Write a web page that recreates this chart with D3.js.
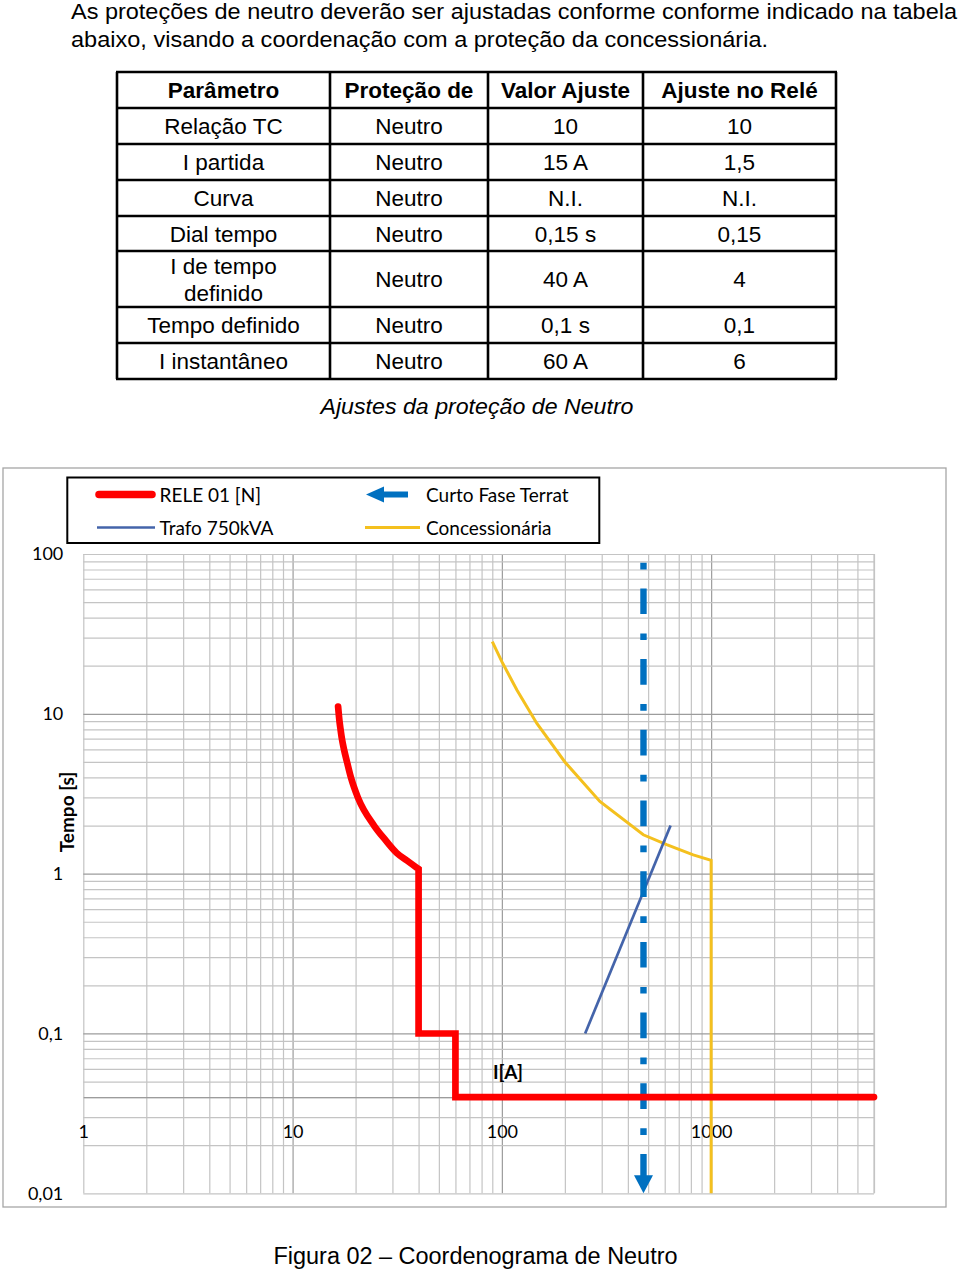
<!DOCTYPE html>
<html><head><meta charset="utf-8">
<script src="https://cdn.jsdelivr.net/npm/d3@7"></script>
<style>body{margin:0;background:#fff}svg{display:block}</style>
</head><body><svg id="c" width="960" height="1272"></svg>
<script>
// ---------- data ----------
const introLines = ["As proteções de neutro deverão ser ajustadas conforme conforme indicado na tabela",
                    "abaixo, visando a coordenação com a proteção da concessionária."];
const tableHeader = ["Parâmetro", "Proteção de", "Valor Ajuste", "Ajuste no Relé"];
const paramNames = ["Relação TC", "I partida", "Curva", "Dial tempo", "I de tempo\ndefinido", "Tempo definido", "I instantâneo"];
const protecaoDe = ["Neutro", "Neutro", "Neutro", "Neutro", "Neutro", "Neutro", "Neutro"];
const valorAjuste = ["10", "15 A", "N.I.", "0,15 s", "40 A", "0,1 s", "60 A"];
const ajusteRele = ["10", "1,5", "N.I.", "0,15", "4", "0,1", "6"];
const tableCaption = "Ajustes da proteção de Neutro";
const figureCaption = "Figura 02 – Coordenograma de Neutro";

const releCurrent = [16.5, 16.75, 16.95, 17.2, 17.6, 18.2, 19.0, 20.5, 24.5, 27.8, 31.4, 35.1, 39.2, 40, 40, 60, 60, 6000];
const releTime    = [11.1, 9.0, 8.0, 7.0, 6.0, 5.0, 4.0, 3.0, 2.0, 1.62, 1.35, 1.21, 1.09, 1.07, 0.1, 0.1, 0.04, 0.04];
const releCurveEnd = 13; // index where the inverse-time curve ends and the steps begin
const concCurrent = [90, 100, 118, 147, 200, 294, 474, 613, 821, 1000, 1000];
const concTime    = [28.3, 21.2, 14.1, 8.7, 5.0, 2.83, 1.75, 1.52, 1.31, 1.21, 0.01];
const trafoCurrent = [250, 640];
const trafoTime    = [0.1, 2.0];
const curtoCurrent = [475, 475];
const curtoTime    = [100, 0.01];

const seriesNames = ["RELE 01 [N]", "Trafo 750kVA", "Curto Fase Terrat", "Concessionária"];
const xTicks = [1, 10, 100, 1000];
const xTickLabels = ["1", "10", "100", "1000"];
const yTicks = [0.01, 0.1, 1, 10, 100];
const yTickLabels = ["0,01", "0,1", "1", "10", "100"];
const xDomain = [1, 6000];
const yDomain = [0.01, 100];
const axisCross = 0.04;
const xTitle = "I[A]";
const yTitle = "Tempo [s]";

// ---------- drawing ----------
const svg = d3.select("#c");
svg.append("rect").attr("width", 960).attr("height", 1272).attr("fill", "#fff");

const ARIAL = "'Liberation Sans', Arial, sans-serif";
const CAL = "Lato, 'Open Sans', sans-serif";

// intro paragraph
const introW = [886, 697];
introLines.forEach((t, i) => {
  svg.append("text").attr("x", 71).attr("y", 18.5 + i * 28.3)
    .attr("font-family", ARIAL).attr("font-size", 21.5).attr("fill", "#000")
    .attr("textLength", introW[i]).attr("lengthAdjust", "spacingAndGlyphs")
    .text(t);
});

// table
const colEdges = [117, 330, 488, 643, 836];
const rowEdges = [72, 108, 144, 180, 216, 251, 307, 343, 379];
const tbl = svg.append("g");
const rows = [tableHeader].concat(paramNames.map((p, i) => [p, protecaoDe[i], valorAjuste[i], ajusteRele[i]]));
rows.forEach((r, ri) => {
  const yc = (rowEdges[ri] + rowEdges[ri + 1]) / 2;
  r.forEach((cell, ci) => {
    const xc = (colEdges[ci] + colEdges[ci + 1]) / 2;
    const lines = cell.split("\n");
    lines.forEach((ln, li) => {
      tbl.append("text")
        .attr("x", xc)
        .attr("y", yc + 8 + (li - (lines.length - 1) / 2) * 27)
        .attr("text-anchor", "middle")
        .attr("font-family", ARIAL).attr("font-size", 22.5)
        .attr("font-weight", ri === 0 ? "bold" : "normal")
        .attr("fill", "#000").text(ln);
    });
  });
});
rowEdges.forEach(yv => tbl.append("line").attr("x1", colEdges[0] - 1).attr("x2", colEdges[4] + 1)
  .attr("y1", yv).attr("y2", yv).attr("stroke", "#000").attr("stroke-width", 2.6));
colEdges.forEach(xv => tbl.append("line").attr("x1", xv).attr("x2", xv)
  .attr("y1", rowEdges[0]).attr("y2", rowEdges[rowEdges.length - 1]).attr("stroke", "#000").attr("stroke-width", 2.6));

svg.append("text").attr("x", 477).attr("y", 414).attr("text-anchor", "middle")
  .attr("font-family", ARIAL).attr("font-size", 22).attr("font-style", "italic")
  .attr("textLength", 313).attr("lengthAdjust", "spacingAndGlyphs").text(tableCaption);

svg.append("text").attr("x", 475.5).attr("y", 1264).attr("text-anchor", "middle")
  .attr("font-family", ARIAL).attr("font-size", 23.5)
  .attr("textLength", 404).attr("lengthAdjust", "spacingAndGlyphs").text(figureCaption);

// chart frame
svg.append("rect").attr("x", 3).attr("y", 468).attr("width", 943).attr("height", 739)
  .attr("fill", "#fff").attr("stroke", "#A6A6A6").attr("stroke-width", 1.3);

const x = d3.scaleLog().domain(xDomain).range([83.3, 874]);
const y = d3.scaleLog().domain(yDomain).range([1193.3, 554]);
const [px0, px1] = x.range();
const [py0, py1] = y.range();

// grid values (decade subdivisions)
function logGrid(lo, hi) {
  const out = [];
  for (let e = Math.floor(Math.log10(lo)); e <= Math.ceil(Math.log10(hi)); e++)
    for (let k = 1; k <= 9; k++) {
      const v = +(k * Math.pow(10, e)).toPrecision(6);
      if (v >= lo - 1e-12 && v <= hi + 1e-9) out.push(v);
    }
  return out;
}
const isMajor = v => Math.abs(Math.log10(v) - Math.round(Math.log10(v))) < 1e-9;
const gx = logGrid(xDomain[0], xDomain[1]);
const gy = logGrid(yDomain[0], yDomain[1]);

const grid = svg.append("g");
grid.append("g").attr("transform", `translate(0,${py0})`)
  .call(d3.axisBottom(x).tickValues(gx).tickSize(py1 - py0).tickFormat(""))
  .call(g => g.select(".domain").remove())
  .call(g => g.selectAll(".tick line")
    .attr("stroke", d => (isMajor(d) && d !== xDomain[0]) ? "#9C9C9C" : "#C4C4C4").attr("stroke-width", 1.2));
grid.append("g").attr("transform", `translate(${px0},0)`)
  .call(d3.axisLeft(y).tickValues(gy).tickSize(px0 - px1).tickFormat(""))
  .call(g => g.select(".domain").remove())
  .call(g => g.selectAll(".tick line")
    .attr("stroke", d => (isMajor(d) && d !== yDomain[0] && d !== yDomain[1]) ? "#9C9C9C" : "#C4C4C4").attr("stroke-width", 1.2));
grid.append("line").attr("x1", px1).attr("x2", px1).attr("y1", py1).attr("y2", py0)
  .attr("stroke", "#C4C4C4").attr("stroke-width", 1.2);

// y axis labels
svg.append("g").attr("transform", `translate(${px0},0)`)
  .call(d3.axisLeft(y).tickValues(yTicks).tickSize(0).tickPadding(20)
    .tickFormat((d, i) => yTickLabels[i]))
  .call(g => g.select(".domain").remove())
  .call(g => g.selectAll("text").attr("font-family", CAL).attr("font-size", 18).attr("fill", "#000"));

// x axis (crossing at axisCross)
svg.append("g").attr("transform", `translate(0,${y(axisCross)})`)
  .call(d3.axisBottom(x).tickValues(xTicks).tickSize(0).tickPadding(28)
    .tickFormat((d, i) => xTickLabels[i]))
  .call(g => g.select(".domain").attr("stroke", "#9C9C9C").attr("stroke-width", 1.2))
  .call(g => g.selectAll("text").attr("font-family", CAL).attr("font-size", 18).attr("fill", "#000"));

// axis titles
svg.append("text").attr("transform", "translate(74,812) rotate(-90)").attr("text-anchor", "middle")
  .attr("font-family", CAL).attr("font-size", 19).attr("font-weight", "bold").text(yTitle);
svg.append("text").attr("x", 508).attr("y", 1079).attr("text-anchor", "middle")
  .attr("font-family", CAL).attr("font-size", 19).attr("font-weight", "bold").text(xTitle);

// series
const line = d3.line().x(d => x(d[0])).y(d => y(d[1]));
const smooth = d3.line().x(d => x(d[0])).y(d => y(d[1])).curve(d3.curveMonotoneX);
const zip = (a, b) => a.map((v, i) => [v, b[i]]);

svg.append("path").datum(zip(concCurrent, concTime)).attr("d", line)
  .attr("fill", "none").attr("stroke", "#F4C01E").attr("stroke-width", 3);

svg.append("path").datum(zip(trafoCurrent, trafoTime)).attr("d", line)
  .attr("fill", "none").attr("stroke", "#4464AA").attr("stroke-width", 2.7);

// curto (dash-dot with arrow at the bottom)
const cx0 = x(curtoCurrent[0]);
const yBottom = y(curtoTime[1]);
const arrowLen = 18;
svg.append("path").datum([[curtoCurrent[0], curtoTime[0]], [curtoCurrent[1], y.invert(yBottom - arrowLen + 4)]])
  .attr("d", line).attr("fill", "none").attr("stroke", "#0070C0").attr("stroke-width", 6.4)
  .attr("stroke-dasharray", "6.7,19,25.7,19.3").attr("stroke-dashoffset", 62);
svg.append("path")
  .attr("d", `M${cx0},${yBottom} L${cx0 - 9.5},${yBottom - arrowLen} L${cx0 + 9.5},${yBottom - arrowLen} Z`)
  .attr("fill", "#0070C0");

// relay: smooth inverse-time part + definite-time steps, one path
const relePts = zip(releCurrent, releTime);
const releD = smooth(relePts.slice(0, releCurveEnd + 1)) + line(relePts.slice(releCurveEnd)).replace(/^M/, "L");
svg.append("path").attr("d", releD)
  .attr("fill", "none").attr("stroke", "#FF0000").attr("stroke-width", 6.7)
  .attr("stroke-linecap", "round").attr("stroke-linejoin", "miter");

// legend
const lg = svg.append("g");
lg.append("rect").attr("x", 67.3).attr("y", 477.5).attr("width", 532).attr("height", 65.5)
  .attr("fill", "#fff").attr("stroke", "#000").attr("stroke-width", 2);
const ly1 = 494.5, ly2 = 527.5;
lg.append("line").attr("x1", 99).attr("x2", 152).attr("y1", ly1).attr("y2", ly1)
  .attr("stroke", "#FF0000").attr("stroke-width", 7.5).attr("stroke-linecap", "round");
lg.append("line").attr("x1", 97).attr("x2", 155).attr("y1", ly2).attr("y2", ly2)
  .attr("stroke", "#4464AA").attr("stroke-width", 2.7);
lg.append("rect").attr("x", 381).attr("y", ly1 - 3).attr("width", 27).attr("height", 6).attr("fill", "#0070C0");
lg.append("path").attr("d", `M366,${ly1} L384,${ly1 - 8} L384,${ly1 + 8} Z`).attr("fill", "#0070C0");
lg.append("line").attr("x1", 365).attr("x2", 420).attr("y1", ly2).attr("y2", ly2)
  .attr("stroke", "#F4C01E").attr("stroke-width", 3);
const legText = [[159.5, ly1, seriesNames[0]], [159.5, ly2, seriesNames[1]], [426, ly1, seriesNames[2]], [426, ly2, seriesNames[3]]];
legText.forEach(([tx, ty, t]) => lg.append("text").attr("x", tx).attr("y", ty + 7)
  .attr("font-family", CAL).attr("font-size", 19).attr("fill", "#000").text(t));
</script></body></html>
